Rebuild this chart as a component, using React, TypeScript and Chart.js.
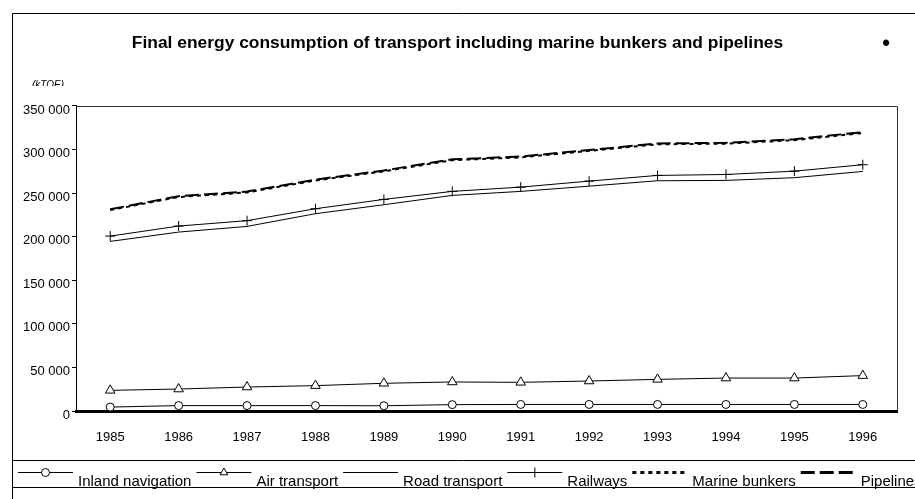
import React, { useEffect, useRef } from 'react';
import { Chart, registerables } from 'chart.js';

Chart.register(...registerables);

const TITLE = 'Final energy consumption of transport including marine bunkers and pipelines';
const UNIT_LABEL = '(kTOE)';
const YEARS = ['1985', '1986', '1987', '1988', '1989', '1990', '1991', '1992', '1993', '1994', '1995', '1996'];

const INLAND_NAVIGATION = [4500, 6200, 6200, 6200, 6000, 7300, 7500, 7500, 7500, 7500, 7500, 7500];
const AIR_TRANSPORT = [23700, 25200, 27500, 29100, 31800, 33300, 32900, 34400, 36300, 37800, 37800, 40600];
const ROAD_TRANSPORT = [194600, 205300, 211800, 226400, 236700, 247400, 252000, 258000, 264200, 264600, 267700, 274900];
const RAILWAYS = [200700, 212200, 218400, 232100, 242800, 252000, 256900, 263800, 270300, 271400, 275200, 282600];
const MARINE_BUNKERS = [230500, 245500, 250800, 264500, 275000, 287800, 291000, 298500, 306000, 306800, 310800, 319000];
const PIPELINES = [231500, 246500, 251800, 265500, 276000, 288800, 292000, 299500, 307000, 307800, 311800, 320000];

const Y_MIN = 0;
const Y_MAX = 350000;
const Y_STEP = 50000;

const FONT = 'Arial, "Liberation Sans", Helvetica, sans-serif';

function formatTick(v: number): string {
  if (v === 0) return '0';
  const thousands = Math.round(v / 1000);
  return `${thousands} 000`;
}

function drawMarker(ctx: CanvasRenderingContext2D, style: string, x: number, y: number, r: number) {
  ctx.beginPath();
  if (style === 'circle') {
    ctx.arc(x, y, r, 0, Math.PI * 2);
    ctx.fillStyle = '#fff';
    ctx.fill();
    ctx.stroke();
  } else if (style === 'triangle') {
    for (let i = 0; i < 3; i++) {
      const a = -Math.PI / 2 + (i * 2 * Math.PI) / 3;
      const px = x + Math.cos(a) * r;
      const py = y + Math.sin(a) * r;
      if (i === 0) ctx.moveTo(px, py);
      else ctx.lineTo(px, py);
    }
    ctx.closePath();
    ctx.fillStyle = '#fff';
    ctx.fill();
    ctx.stroke();
  } else if (style === 'cross') {
    ctx.moveTo(x - r, y);
    ctx.lineTo(x + r, y);
    ctx.moveTo(x, y - r);
    ctx.lineTo(x, y + r);
    ctx.stroke();
  }
}

const framePlugin = {
  id: 'frameAndLegend',
  afterDraw(chart: any) {
    const ctx: CanvasRenderingContext2D = chart.ctx;
    const { left, right, top, bottom } = chart.chartArea;
    const W = chart.width;
    const H = chart.height;
    ctx.save();

    // plot area top & right border
    ctx.strokeStyle = '#333';
    ctx.lineWidth = 1;
    ctx.setLineDash([]);
    ctx.beginPath();
    ctx.moveTo(left, Math.round(top) + 0.5);
    ctx.lineTo(Math.round(right) + 0.5, Math.round(top) + 0.5);
    ctx.lineTo(Math.round(right) + 0.5, bottom);
    ctx.stroke();

    // unit label (partially clipped as in the original)
    ctx.save();
    ctx.beginPath();
    ctx.rect(0, 0, W, 86);
    ctx.clip();
    ctx.fillStyle = '#000';
    ctx.font = `italic 10px ${FONT}`;
    ctx.textAlign = 'left';
    ctx.textBaseline = 'alphabetic';
    ctx.fillText(UNIT_LABEL, 32, 88);
    ctx.restore();

    // bullet at title right
    ctx.fillStyle = '#000';
    ctx.font = `bold 22px ${FONT}`;
    ctx.textAlign = 'center';
    ctx.textBaseline = 'middle';
    ctx.fillText('•', 886, 44);

    // legend
    const legendLineY = 472.5;
    const legendTextY = 486;
    let x = 18;
    ctx.font = `15px ${FONT}`;
    ctx.textAlign = 'left';
    ctx.textBaseline = 'alphabetic';
    chart.data.datasets.forEach((ds: any) => {
      ctx.strokeStyle = '#000';
      ctx.lineWidth = ds.borderWidth === 1 ? 1 : 3;
      ctx.setLineDash(ds.borderDash || []);
      ctx.beginPath();
      ctx.moveTo(x, legendLineY);
      ctx.lineTo(x + 55, legendLineY);
      ctx.stroke();
      ctx.setLineDash([]);
      if (ds.pointRadius > 0) {
        ctx.lineWidth = 1;
        drawMarker(ctx, ds.pointStyle, x + 27.5, legendLineY, ds.pointStyle === 'triangle' ? 4.5 : ds.pointRadius);
      }
      ctx.fillStyle = '#000';
      ctx.fillText(ds.label, x + 60, legendTextY);
      x += 60 + ctx.measureText(ds.label).width + 5;
    });

    // outer frame and legend box
    ctx.strokeStyle = '#000';
    ctx.lineWidth = 1;
    ctx.setLineDash([]);
    ctx.beginPath();
    ctx.moveTo(12.5, H);
    ctx.lineTo(12.5, 13.5);
    ctx.lineTo(W, 13.5);
    ctx.moveTo(12, 460.5);
    ctx.lineTo(W, 460.5);
    ctx.moveTo(12, 487.5);
    ctx.lineTo(W, 487.5);
    ctx.stroke();

    ctx.restore();
  },
};

export default function App() {
  const canvasRef = useRef<HTMLCanvasElement | null>(null);

  useEffect(() => {
    const canvas = canvasRef.current;
    if (!canvas) return;
    const base = {
      borderColor: '#000',
      backgroundColor: '#fff',
      pointBorderColor: '#000',
      pointBackgroundColor: '#fff',
      pointBorderWidth: 1,
      fill: false,
      tension: 0,
    };
    const chart = new Chart(canvas, {
      type: 'line',
      data: {
        labels: YEARS,
        datasets: [
          { ...base, label: 'Inland navigation', data: INLAND_NAVIGATION, borderWidth: 1, pointStyle: 'circle', pointRadius: 4 },
          { ...base, label: 'Air transport', data: AIR_TRANSPORT, borderWidth: 1, pointStyle: 'triangle', pointRadius: 5.5 },
          { ...base, label: 'Road transport', data: ROAD_TRANSPORT, borderWidth: 1, pointStyle: 'circle', pointRadius: 0 },
          { ...base, label: 'Railways', data: RAILWAYS, borderWidth: 1, pointStyle: 'cross', pointRadius: 5 },
          { ...base, label: 'Marine bunkers', data: MARINE_BUNKERS, borderWidth: 2, borderDash: [4, 4], pointStyle: 'circle', pointRadius: 0 },
          { ...base, label: 'Pipelines', data: PIPELINES, borderWidth: 2, borderDash: [14, 5], pointStyle: 'circle', pointRadius: 0 },
        ] as any,
      },
      options: {
        animation: false,
        responsive: false,
        devicePixelRatio: 1,
        layout: { padding: { left: 0, right: 0, top: 0, bottom: 0 } },
        plugins: {
          legend: { display: false },
          tooltip: { enabled: false },
          title: {
            display: true,
            text: TITLE,
            color: '#000',
            font: { family: FONT, size: 17.4, weight: 'bold' },
            padding: { top: 33, bottom: 52.1 },
          },
        },
        scales: {
          x: {
            offset: true,
            grid: { display: false },
            border: { display: true, color: '#000', width: 3 },
            ticks: { color: '#000', font: { family: FONT, size: 13 }, padding: 11, maxRotation: 0, autoSkip: false },
            afterFit: (s: any) => { s.height = 88; },
          },
          y: {
            min: Y_MIN,
            max: Y_MAX,
            grid: { display: true, drawOnChartArea: false, drawTicks: true, tickLength: 4, color: '#000' },
            border: { display: true, color: '#000', width: 1 },
            ticks: {
              stepSize: Y_STEP,
              color: '#000',
              font: { family: FONT, size: 13 },
              padding: 2,
              labelOffset: 4,
              callback: (v: any) => formatTick(Number(v)),
            },
            afterFit: (s: any) => { s.width = 76; },
          },
          yRight: {
            position: 'right',
            min: Y_MIN,
            max: Y_MAX,
            grid: { display: false },
            border: { display: false },
            ticks: { display: false },
            afterFit: (s: any) => { s.width = 18; },
          },
        },
      } as any,
      plugins: [framePlugin],
    });
    return () => chart.destroy();
  }, []);

  return (
    <div style={{ position: 'fixed', left: 0, top: 0, width: 915, height: 499, background: '#fff' }}>
      <canvas ref={canvasRef} width={915} height={499} style={{ display: 'block', width: 915, height: 499 }} />
    </div>
  );
}
